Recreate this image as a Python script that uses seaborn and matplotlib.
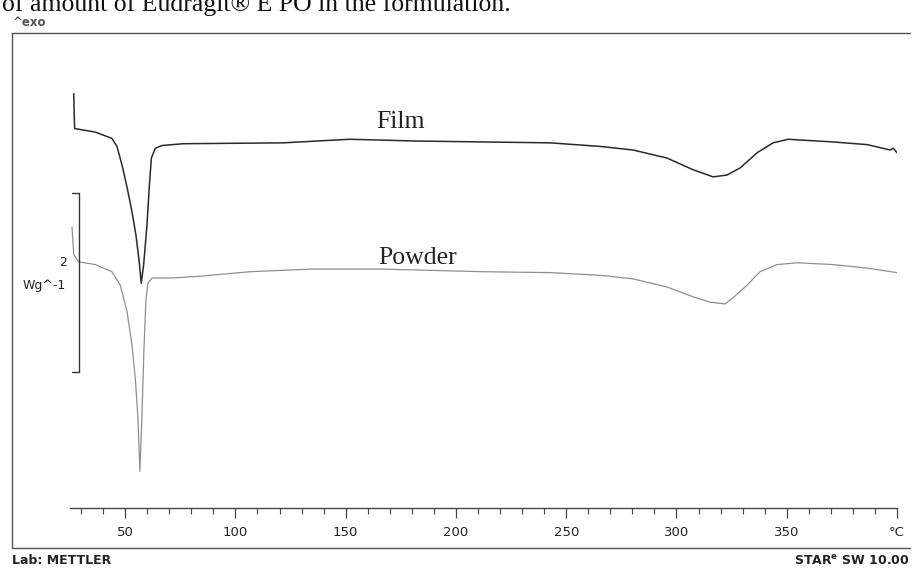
import numpy as np
import pandas as pd
import matplotlib
matplotlib.use("Agg")
import matplotlib.pyplot as plt
import seaborn as sns
from matplotlib.lines import Line2D
from matplotlib.ticker import MultipleLocator, FixedLocator

# ---------------- data ----------------
film_T = [26.7, 26.9, 27.1, 36.5, 44.0, 46.3, 48.6, 50.9, 53.1, 54.9, 56.4, 57.3,
          58.4, 59.9, 61.0, 61.9, 63.7, 66.7, 71.3, 76.2, 121.6, 152.0, 182.4,
          212.3, 242.7, 265.4, 280.3, 295.7, 307.5, 316.6, 322.9, 328.9, 336.6,
          343.8, 350.6, 371.0, 386.5, 396.9, 398.3, 400.0]
film_v = [4.63, 4.40, 4.24, 4.20, 4.13, 4.04, 3.83, 3.58, 3.31, 3.05, 2.75, 2.51,
          2.72, 3.16, 3.61, 3.91, 4.02, 4.05, 4.06, 4.07, 4.08, 4.12, 4.10,
          4.09, 4.08, 4.04, 4.00, 3.91, 3.78, 3.70, 3.72, 3.80, 3.97,
          4.08, 4.12, 4.09, 4.06, 4.00, 4.02, 3.97]

powder_T = [25.9, 26.7, 28.9, 36.5, 44.0, 47.8, 50.9, 53.1, 54.6, 55.8, 56.7, 57.6,
            58.5, 59.4, 60.3, 62.2, 66.7, 71.3, 84.0, 106.6, 135.2, 165.6, 212.3,
            242.7, 265.4, 280.3, 295.7, 307.5, 315.2, 322.0, 325.7, 332.0, 337.9,
            345.6, 354.7, 371.0, 386.5, 400.0]
powder_v = [3.14, 2.83, 2.75, 2.72, 2.64, 2.49, 2.19, 1.82, 1.45, 1.01, 0.41, 1.01,
            1.75, 2.31, 2.51, 2.57, 2.57, 2.57, 2.59, 2.64, 2.67, 2.67, 2.64,
            2.63, 2.60, 2.56, 2.47, 2.36, 2.30, 2.28, 2.35, 2.49, 2.64,
            2.72, 2.74, 2.72, 2.68, 2.63]

curve_labels = ["Film", "Powder"]
major_ticks = [50, 100, 150, 200, 250, 300, 350, 400]
major_labels = ["50", "100", "150", "200", "250", "300", "350", "°C"]
scale_bar_value = 2  # W/g

# ---------------- figure ----------------
sns.set_theme(style="white")
plt.rcParams["font.family"] = ["DejaVu Sans"]

W, H = 913, 570
fig = plt.figure(figsize=(W / 100, H / 100), dpi=100)

def fx(px):
    return px / W

def fy(py):
    return 1 - py / H

# axes: x 70..897 px, y 33..508 px
ax = fig.add_axes([fx(70), fy(508), fx(897) - fx(70), fy(33) - fy(508)])
ax.set_facecolor("white")

df_f = pd.DataFrame({"T": film_T, "v": film_v})
df_p = pd.DataFrame({"T": powder_T, "v": powder_v})
sns.lineplot(data=df_f, x="T", y="v", ax=ax, color="#2a2a2a", lw=1.1,
             sort=False, estimator=None)
sns.lineplot(data=df_p, x="T", y="v", ax=ax, color="#8f8f8f", lw=0.9,
             sort=False, estimator=None)

ax.set_xlim(25, 400)
ax.set_ylim(0, 475 / 89.5)
ax.set_xlabel("")
ax.set_ylabel("")
for s in ["top", "right", "left"]:
    ax.spines[s].set_visible(False)
ax.spines["bottom"].set_color("#444444")
ax.spines["bottom"].set_linewidth(1.0)
ax.set_yticks([])
ax.xaxis.set_major_locator(FixedLocator(major_ticks))
ax.set_xticklabels(major_labels)
ax.xaxis.set_minor_locator(MultipleLocator(10))
ax.tick_params(axis="x", which="major", direction="out", length=7, width=0.9,
               color="#444444", labelsize=9.5, labelcolor="#222222", pad=6,
               bottom=True)
ax.tick_params(axis="x", which="minor", direction="out", length=4, width=0.8,
               color="#444444", bottom=True)
ax.grid(False)

# curve labels
serif = ["Liberation Serif", "DejaVu Serif"]
ax.text(175, 4.31, curve_labels[0], family=serif, fontsize=18.5, ha="center",
        va="center", color="#222222")
ax.text(182.8, 2.79, curve_labels[1], family=serif, fontsize=18.5, ha="center",
        va="center", color="#222222")

# scale bar (2 W/g)
sb_x, sb_y0 = 29.1, 1.52
ax.plot([sb_x, sb_x], [sb_y0, sb_y0 + scale_bar_value], color="#333333",
        lw=1.0, clip_on=False)
ax.plot([26.0, sb_x], [sb_y0, sb_y0], color="#333333", lw=1.0, clip_on=False)
ax.plot([26.0, sb_x], [sb_y0 + scale_bar_value] * 2, color="#333333", lw=1.0,
        clip_on=False)
fig.text(fx(67), fy(263), str(scale_bar_value), ha="right", va="center",
         fontsize=9, color="#222222")
fig.text(fx(66), fy(286), "Wg^-1", ha="right", va="center", fontsize=9,
         color="#222222")

# frame lines
fcol = "#555555"
fig.add_artist(Line2D([fx(12), fx(12)], [fy(33), fy(548)], color=fcol, lw=1.0))
fig.add_artist(Line2D([fx(12), fx(910)], [fy(33), fy(33)], color=fcol, lw=1.0))
fig.add_artist(Line2D([fx(12), fx(910)], [fy(548), fy(548)], color=fcol, lw=1.0))

# header / footer texts (header is cropped at the top edge, as in the source)
fig.text(fx(2), fy(11), "of amount of Eudragit® E PO in the formulation.",
         family=serif, fontsize=18.5, ha="left", va="baseline", color="#111111")
fig.text(fx(13), fy(23), "^exo", fontsize=8.5, fontweight="bold",
         ha="left", va="center", color="#555555")
fig.text(fx(12), fy(561), "Lab: METTLER", fontsize=9, fontweight="bold",
         ha="left", va="center", color="#222222")
fig.text(fx(910), fy(561), r"STAR$^{\mathbf{e}}$ SW 10.00", fontsize=9,
         fontweight="bold", ha="right", va="center", color="#222222")

fig.savefig("out.png", dpi=100, facecolor="white")
